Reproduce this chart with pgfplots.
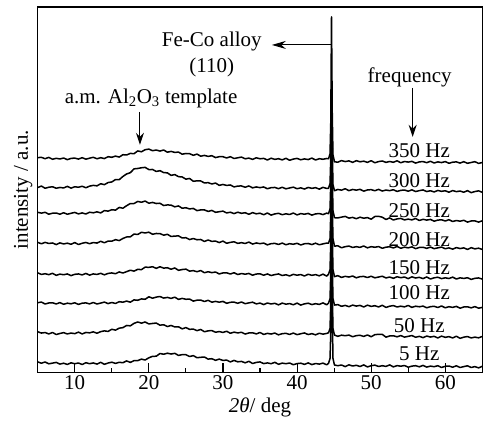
\documentclass[border=0pt]{standalone}
\usepackage{fontspec}
\setmainfont{Liberation Serif}
\usepackage{pgfplots}
\usepackage{pgfplotstable}
\pgfplotsset{compat=1.18}
\usetikzlibrary{arrows.meta}

\pgfplotstableread{
x c5 c50 c100 c150 c200 c250 c300 c350
5 10.6 40.8 69.9 99.8 130.3 160.4 185.2 215.2
5.5 9.3 39.5 70.5 98.2 128.9 159.6 186.7 215.4
6 10.5 40.0 68.6 98.9 130.3 160.4 184.5 214.1
6.5 8.7 38.6 69.6 98.0 129.2 158.5 185.5 215.4
7 9.4 40.1 69.8 99.3 129.7 159.5 186.0 213.5
7.5 10.1 38.0 68.6 97.3 128.1 159.7 184.5 214.5
8 8.4 39.1 70.0 98.5 129.8 158.5 185.3 213.8
8.5 9.3 39.9 68.3 97.9 128.7 160.0 184.8 214.8
9 8.1 38.6 69.4 98.7 129.5 158.5 186.4 213.1
9.5 9.7 39.5 68.8 97.0 128.4 159.4 184.6 214.4
10 8.8 38.9 69.8 98.3 130.1 160.3 186.0 214.7
10.5 9.5 40.4 68.2 98.7 128.2 158.8 185.5 213.7
11 8.0 38.6 69.4 97.7 129.4 159.8 186.5 215.1
11.5 9.8 40.1 69.7 99.2 130.2 158.7 185.0 213.6
12 8.8 39.7 68.7 97.5 129.0 160.5 186.6 214.6
12.5 9.6 40.7 70.1 98.7 130.1 159.9 187.4 215.5
13 8.4 39.3 68.6 98.2 129.6 160.9 186.9 214.0
13.5 10.2 40.9 69.5 99.3 131.4 159.8 189.0 215.1
14 8.2 41.7 70.5 97.8 129.9 162.1 188.1 214.2
14.5 9.5 41.1 69.0 99.2 131.6 161.6 190.2 216.1
15 10.3 43.3 70.1 99.7 131.5 163.0 190.8 215.5
15.5 9.1 42.4 69.1 98.9 133.0 162.6 193.2 216.7
16 10.2 44.4 70.9 100.7 132.1 165.3 193.1 215.7
16.5 9.8 44.9 70.4 99.6 134.2 164.5 196.3 218.1
17 11.6 47.1 71.5 101.0 135.7 167.0 198.8 217.8
17.5 10.1 46.7 70.4 102.4 135.8 169.2 200.1 219.4
18 11.9 49.2 72.7 101.5 138.6 169.2 203.9 219.1
18.5 11.9 50.6 72.3 103.3 138.2 171.3 204.3 221.9
19 13.4 49.4 73.7 103.0 140.4 170.5 205.0 221.0
19.5 12.5 50.6 73.3 105.5 139.7 171.7 205.4 223.1
20 14.7 48.6 75.8 105.3 140.5 169.5 203.2 223.7
20.5 16.2 49.1 74.4 105.9 138.4 170.3 203.3 222.1
21 16.3 49.5 75.5 104.3 139.2 169.2 201.3 222.8
21.5 19.0 47.4 76.1 105.9 139.1 169.5 202.1 221.7
22 18.3 47.8 74.5 104.5 137.5 167.2 200.2 222.8
22.5 19.3 46.0 75.2 104.9 138.4 167.8 199.9 220.6
23 18.5 47.1 74.2 103.4 136.2 167.6 197.4 221.4
23.5 19.2 45.6 75.4 104.7 136.6 165.9 198.2 220.4
24 17.1 45.8 73.2 102.3 136.8 166.8 196.1 220.7
24.5 17.9 43.7 74.2 103.1 134.7 164.5 195.8 218.6
25 17.8 45.0 73.3 103.5 135.0 165.0 193.6 219.3
25.5 16.0 43.2 73.5 101.5 133.1 163.8 194.3 219.1
26 16.9 43.5 71.5 102.0 134.2 164.3 191.5 217.5
26.5 14.8 41.9 72.4 100.9 132.9 162.1 191.9 218.7
27 15.2 43.1 72.5 102.1 133.2 162.8 191.8 216.6
27.5 15.5 40.8 71.1 99.9 131.2 162.8 189.8 217.4
28 13.4 41.7 72.3 100.9 132.7 161.3 190.1 216.4
28.5 13.8 42.0 70.4 100.0 131.3 162.3 188.8 217.1
29 12.2 40.3 71.2 100.6 131.6 160.4 189.7 215.2
29.5 13.4 41.0 70.4 98.7 130.1 161.0 187.4 216.1
30 12.1 40.1 71.2 99.7 131.6 161.6 188.3 216.1
30.5 12.4 41.3 69.3 99.8 129.4 159.8 187.3 214.8
31 10.6 39.3 70.3 98.6 130.3 160.5 187.8 216.1
31.5 12.1 40.4 70.5 99.9 130.9 159.1 185.8 214.3
32 10.7 39.6 69.3 98.1 129.3 160.5 186.7 215.0
32.5 11.1 40.3 70.6 99.1 130.0 159.4 186.8 215.7
33 9.7 38.5 68.9 98.4 129.2 160.0 185.5 214.0
33.5 11.2 39.6 69.7 99.2 130.6 158.4 186.8 214.7
34 9.0 39.8 70.4 97.4 128.6 160.1 184.9 213.4
34.5 10.1 38.6 68.7 98.6 129.7 158.9 185.8 215.0
35 10.6 40.1 69.5 98.8 129.0 159.5 185.1 214.0
35.5 8.9 38.1 68.0 97.4 129.6 158.0 185.8 214.4
36 9.6 39.2 69.6 98.7 127.8 159.7 184.0 212.8
36.5 8.8 38.5 68.6 97.1 129.0 157.6 185.1 214.6
37 10.2 39.5 69.3 98.0 129.3 158.8 185.3 213.4
37.5 8.2 37.7 67.7 98.7 128.2 159.4 184.1 214.1
38 9.4 38.9 69.5 97.1 129.6 158.0 185.5 212.9
38.5 8.8 39.2 68.4 97.9 127.9 158.9 183.9 214.5
39 9.5 38.1 69.0 96.7 129.0 158.2 184.8 212.5
39.5 7.8 39.5 67.8 98.3 128.4 159.7 185.6 213.7
40 8.9 37.9 69.5 97.4 129.4 157.8 184.0 214.4
40.5 9.3 38.8 67.5 98.1 127.7 159.1 184.9 213.0
41 8.1 39.6 68.7 96.6 128.9 158.5 183.7 213.9
41.5 9.6 38.0 69.4 98.4 129.2 159.3 185.3 213.2
42 7.9 38.9 68.0 97.3 128.1 157.6 184.4 214.7
42.5 9.0 37.7 68.9 98.0 129.5 158.8 185.1 212.8
43 8.4 39.3 68.2 96.8 127.9 159.2 183.6 214.1
43.5 9.4 38.4 69.7 98.5 128.8 158.1 185.4 213.5
44 7.7 39.1 67.8 96.5 129.6 159.6 184.3 214.3
44.25 9.2 39.8 69.5 98.5 129.5 159.0 184.5 214.0
44.45 14 44 74 103 134 164 189 219
44.55 40 70 100 130 160 190 215 250
44.65 230 235 240 245 250 255 260 356
44.75 60 80 110 140 170 200 225 260
44.85 14 44 74 103 134 162 188 218
45.05 7.5 37.5 67.5 96 126.5 155 182 211
45.5 6.8 36.2 68.0 97.0 126.9 154.8 183.3 210.6
46 7.5 37.4 66.3 95.2 124.9 155.6 182.6 212.2
46.5 5.9 36.8 67.2 96.3 126.0 156.3 184.0 211.2
47 7.7 37.5 65.9 95.6 126.6 154.6 182.1 211.9
47.5 6.5 35.8 67.5 96.6 125.2 155.3 183.3 210.4
48 7.2 36.9 66.5 94.8 126.0 154.0 182.6 212.1
48.5 6.0 37.3 67.2 96.0 125.3 155.5 183.4 211.0
49 7.6 36.1 65.6 96.2 126.7 154.5 181.6 211.6
49.5 5.6 37.6 67.4 95.1 124.8 155.1 182.8 210.4
50 6.8 35.8 66.2 96.4 126.0 153.5 183.1 212.1
50.5 7.4 37.9 66.9 94.8 125.4 156.2 182.0 210.0
51 6.0 38.2 65.6 95.6 126.1 156.4 183.4 211.2
51.5 6.8 38.2 67.3 96.4 124.4 155.5 181.7 211.8
52 6.1 35.4 65.2 94.7 125.5 153.2 182.7 210.4
52.5 7.6 36.6 66.4 95.6 125.9 154.8 182.1 211.3
53 5.6 36.8 67.0 94.3 124.7 152.7 183.0 210.5
53.5 6.9 35.7 65.6 95.9 126.2 153.8 181.3 212.0
54 6.3 37.0 66.4 94.9 124.4 154.3 182.4 210.0
54.5 7.0 35.4 65.7 95.6 125.5 152.8 182.7 211.3
55 5.3 36.2 67.1 94.0 124.8 153.6 181.5 210.7
55.5 6.4 37.0 65.2 95.8 125.8 152.8 182.9 211.4
56 6.8 35.3 66.4 94.6 124.0 154.2 181.2 209.7
56.5 5.7 36.2 65.8 95.3 125.2 152.2 182.1 210.9
57 7.1 34.9 66.5 94.0 125.4 153.4 182.8 211.2
57.5 5.4 36.5 64.8 95.7 124.3 152.6 181.2 210.1
58 6.4 35.5 65.9 93.6 125.6 153.3 182.0 211.5
58.5 5.8 36.2 66.3 94.8 124.0 151.5 180.8 209.8
59 6.8 34.6 65.1 95.4 124.8 152.6 182.3 210.9
59.5 5.0 36.4 66.6 94.0 125.6 152.9 181.4 210.2
60 6.2 35.2 64.8 94.8 123.9 151.7 182.0 211.2
60.5 6.5 35.9 65.9 94.1 124.8 153.0 180.5 209.5
61 5.3 34.6 65.2 95.5 123.5 151.2 182.2 210.6
61.5 6.7 36.3 66.2 93.6 125.1 152.2 181.1 210.9
62 5.0 34.2 64.4 94.8 124.1 151.5 181.7 209.7
62.5 5.9 35.4 65.6 94.2 124.8 152.4 180.5 211.1
63 6.7 36.0 65.8 94.9 123.2 150.6 182.1 209.5
63.5 5.0 34.6 64.7 93.2 125.0 151.7 180.1 210.3
64 5.9 35.4 66.0 94.3 123.8 151.8 181.2 211.1
64.5 4.6 34.7 64.4 94.7 124.5 150.6 181.9 209.4
65 6.2 36.1 65.2 93.5 123.2 151.9 180.4 210.3
}\xrd

\begin{document}
\begin{tikzpicture}[font=\fontsize{21}{25}\selectfont]
\begin{axis}[
  name=ax,
  scale only axis,
  width=444.6pt, height=365.5pt,
  xmin=5, xmax=65, ymin=0, ymax=366,
  xtick={10,20,...,60},
  minor xtick={15,25,...,55},
  ytick=\empty,
  xtick pos=bottom,
  tick align=inside,
  major tick length=9pt,
  minor tick length=4pt,
  axis line style={line width=1.3pt},
  every tick/.style={black, line width=1.1pt},
  /pgf/number format/assume math mode=true,
  tick label style={font=\fontsize{21}{25}\selectfont},
  xlabel={\textit{2θ}/ deg},
  ylabel={intensity / a.u.},
  xlabel style={at={(axis description cs:0.5,-0.109)}, anchor=base},
  ylabel style={at={(axis description cs:-0.022,0.5)}, anchor=base},
]
\addplot[black, solid, line width=1.5pt, line join=round] table[x=x, y=c5] {\xrd};
\addplot[black, solid, line width=1.5pt, line join=round] table[x=x, y=c50] {\xrd};
\addplot[black, solid, line width=1.5pt, line join=round] table[x=x, y=c100] {\xrd};
\addplot[black, solid, line width=1.5pt, line join=round] table[x=x, y=c150] {\xrd};
\addplot[black, solid, line width=1.5pt, line join=round] table[x=x, y=c200] {\xrd};
\addplot[black, solid, line width=1.5pt, line join=round] table[x=x, y=c250] {\xrd};
\addplot[black, solid, line width=1.5pt, line join=round] table[x=x, y=c300] {\xrd};
\addplot[black, solid, line width=1.5pt, line join=round] table[x=x, y=c350] {\xrd};

\node[anchor=base] at (axis cs:28.5,326) {Fe-Co alloy};
\node[anchor=base] at (axis cs:28.5,300) {(110)};
\draw[line width=1pt, -{Stealth[length=14pt,width=8pt]}] (axis cs:44.65,328) -- (axis cs:36.6,328);
\node[anchor=base] at (axis cs:20.3,269) {a.m. Al\textsubscript{2}O\textsubscript{3} template};
\draw[line width=1pt, -{Stealth[length=12pt,width=8pt]}] (axis cs:18.8,261) -- (axis cs:18.8,228);
\node[anchor=base] at (axis cs:55.2,290) {frequency};
\draw[line width=1pt, -{Stealth[length=12pt,width=8pt]}] (axis cs:55.6,285) -- (axis cs:55.6,236);

\node[anchor=base] at (axis cs:56.5,215) {350 Hz};
\node[anchor=base] at (axis cs:56.5,185) {300 Hz};
\node[anchor=base] at (axis cs:56.5,155) {250 Hz};
\node[anchor=base] at (axis cs:56.5,126) {200 Hz};
\node[anchor=base] at (axis cs:56.5,98) {150 Hz};
\node[anchor=base] at (axis cs:56.5,73) {100 Hz};
\node[anchor=base] at (axis cs:56.5,40) {50 Hz};
\node[anchor=base] at (axis cs:56.5,12) {5 Hz};
\end{axis}
\pgfresetboundingbox
\path[use as bounding box] ([shift={(-37.7pt,-49.5pt)}]ax.south west) rectangle ([shift={(5.7pt,7pt)}]ax.north east);
\end{tikzpicture}
\end{document}
